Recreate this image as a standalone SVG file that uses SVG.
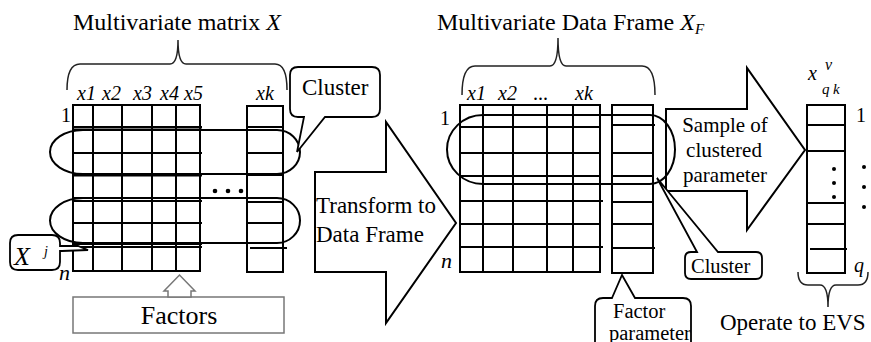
<svg xmlns="http://www.w3.org/2000/svg" width="871" height="342" viewBox="0 0 871 342">
  <defs>
    <style>
      text { font-family: Liberation Serif, DejaVu Serif, serif; }
      .it { font-style: italic; }
      .grid { stroke: #000; stroke-width: 2; fill: none; }
      .thick { stroke: #000; stroke-width: 3; }
      .loop { stroke: #000; stroke-width: 2; fill: none; }
      .brace { stroke: #222; stroke-width: 1.5; fill: none; }
      .blk { stroke: #000; stroke-width: 2; fill: #fff; stroke-linejoin: miter; }
      .callout { stroke: #000; stroke-width: 1.8; fill: #fff; }
      .gray { stroke: #777; stroke-width: 1.5; fill: #fff; }
    </style>
  </defs>

  <g font-family="Liberation Serif, DejaVu Serif, serif" fill="#000">

  <!-- titles -->
  <text x="73" y="30" font-size="24">Multivariate matrix <tspan class="it">X</tspan></text>
  <text x="437" y="30" font-size="24">Multivariate Data Frame <tspan class="it">X</tspan><tspan class="it" font-size="15" dy="4">F</tspan></text>

  <!-- braces -->
  <g id="braces">
    <path class="brace" d="M67,90 Q67,64 80,64 L170,64 Q178,64 178,40 Q178,64 186,64 L275,64 Q287,64 287,90"/>
    <path class="brace" d="M462,95 Q462,66 475,66 L550,66 Q558,66 558,38 Q558,66 566,66 L642,66 Q655,66 655,95"/>
    <path class="brace" d="M798,272 Q798,285 808,285 L820,285 Q828,285 828,307 Q828,285 836,285 L858,285 Q868,285 868,272"/>
  </g>

  <!-- left matrix X -->
  <g id="matrix-x">
    <text class="it" font-size="20" x="77" y="100">x1</text>
    <text class="it" font-size="20" x="102" y="100">x2</text>
    <text class="it" font-size="20" x="133" y="100">x3</text>
    <text class="it" font-size="20" x="160" y="100">x4</text>
    <text class="it" font-size="20" x="184" y="100">x5</text>
    <text class="it" font-size="20" x="256" y="100">xk</text>
    <text font-size="20" x="61" y="122">1</text>
    <text class="it" font-size="22" x="59" y="280">n</text>
    <rect class="grid" x="73" y="105" width="127" height="166"/>
    <path class="grid" d="M93,105 V271 M122,105 V271 M152,105 V271 M176,105 V271
      M73,127 H202 M73,129.5 H202 M73,153 H202 M73,198 H202 M73,201 H202 M73,223 H202 M73,244 H202 M73,247 H202"/>
    <path class="thick" d="M73,175 H202"/>
    <rect class="grid" x="247" y="106" width="36" height="166"/>
    <path class="grid" d="M247,127 H283 M247,153 H283 M247,175 H283 M247,202 H283 M247,223 H283 M250,248 H287"/>
    <circle cx="215" cy="191" r="2.3"/>
    <circle cx="228" cy="191" r="2.3"/>
    <circle cx="241" cy="191" r="2.3"/>
    <path class="loop" d="M83,130 L277,130 A23,22 0 0 1 277,174 L83,174 A33,22 0 0 1 83,130 Z"/>
    <path class="loop" d="M83,198 L277,198 A23,22.5 0 0 1 277,243 L83,243 A33,22.5 0 0 1 83,198 Z"/>
  </g>

  <!-- X^j callout -->
  <g id="callout-xj">
    <path class="callout" d="M18,235 L52,235 Q60,235 60,243 L60,246 L78,246 L88,250 L62,251 L60,251 L60,262 Q60,270 52,270 L18,270 Q10,270 10,262 L10,243 Q10,235 18,235 Z"/>
    <text class="it" font-size="26" x="14" y="265">X</text>
    <text class="it" font-size="14" x="44" y="256">j</text>
  </g>

  <!-- Factors -->
  <g id="factors">
    <rect class="gray" x="73" y="297" width="211" height="36"/>
    <polygon class="gray" points="168,297 168,291 164,291 179.5,275 195,291 191,291 191,297"/>
    <text font-size="26" x="179" y="324" text-anchor="middle">Factors</text>
  </g>

  <!-- top Cluster callout -->
  <g id="callout-cluster-1">
    <path class="callout" d="M298,67 L372,67 Q380,67 380,75 L380,109 Q380,117 372,117 L325,117 L297,152 L304,117 L298,117 Q290,117 290,109 L290,75 Q290,67 298,67 Z"/>
    <text font-size="23" x="302" y="95">Cluster</text>
  </g>

  <!-- Transform arrow -->
  <g id="arrow-transform">
    <polygon class="blk" points="315,172 386,172 386,122 456,223 386,323 386,272 315,272"/>
    <text font-size="23" x="316" y="213">Transform to</text>
    <text font-size="23" x="316" y="242">Data Frame</text>
  </g>

  <!-- Sample arrow -->
  <g id="arrow-sample">
    <polygon class="blk" points="666,109 747,109 747,68 805,150 747,230 747,191 666,191"/>
    <text font-size="21" x="725" y="132" text-anchor="middle">Sample of</text>
    <text font-size="21" x="724" y="157" text-anchor="middle">clustered</text>
    <text font-size="21" x="725" y="182" text-anchor="middle">parameter</text>
  </g>

  <!-- data frame X_F -->
  <g id="data-frame">
    <text class="it" font-size="20" x="467" y="100">x1</text>
    <text class="it" font-size="20" x="498" y="100">x2</text>
    <text font-size="20" x="533" y="100">...</text>
    <text class="it" font-size="20" x="575" y="100">xk</text>
    <text font-size="20" x="440" y="125">1</text>
    <text class="it" font-size="22" x="441" y="268">n</text>
    <rect class="grid" x="460" y="105" width="140" height="167"/>
    <path class="grid" d="M483,105 V272 M513,105 V272 M547,105 V272 M573,105 V272
      M460,127 H600 M460,153 H600 M460,176 H600 M460,201 H603 M460,224 H600 M460,247 H603"/>
  </g>

  <!-- factor parameter column -->
  <g id="factor-column">
    <rect class="grid" x="612" y="105" width="41" height="168"/>
    <path class="grid" d="M612,125 H655 M612,153 H653 M612,176 H653 M612,202 H653 M612,224 H653 M612,248 H655"/>
  </g>

  <!-- cluster loop on data frame -->
  <path id="cluster-loop" class="loop" d="M483,115 L650,115 A25,34.5 0 0 1 650,184 L483,184 A36,34.5 0 0 1 483,115 Z"/>

  <!-- lower Cluster callout -->
  <g id="callout-cluster-2">
    <path class="callout" d="M697,252 L657,178 L718,252 L756,252 Q762,252 762,258 L762,273 Q762,279 756,279 L691,279 Q685,279 685,273 L685,258 Q685,252 691,252 Z"/>
    <text font-size="20.5" x="691" y="273">Cluster</text>
  </g>

  <!-- Factor parameter callout -->
  <g id="callout-factor">
    <path class="callout" d="M612,298 L622,275 L635,298 L683,298 Q691,298 691,306 L691,350 L595,350 L595,306 Q595,298 603,298 Z"/>
    <text font-size="20.5" x="613" y="318">Factor</text>
    <text font-size="20.5" x="609" y="340">parameter</text>
  </g>

  <!-- sampled column x^v_qk -->
  <g id="sample-column">
    <text class="it" font-size="20" x="808" y="80">x</text>
    <text class="it" font-size="16" x="825" y="70">ν</text>
    <text class="it" font-size="15" x="822" y="94">q</text>
    <text class="it" font-size="15" x="833" y="94">k</text>
    <rect class="grid" x="807" y="105" width="38" height="168"/>
    <path class="grid" d="M807,125 H845 M807,151 H845 M807,203 H845 M807,224 H845 M810,249 H847"/>
    <circle cx="834" cy="169" r="2"/>
    <circle cx="834" cy="183" r="2"/>
    <circle cx="834" cy="197" r="2"/>
    <circle cx="864" cy="167" r="2"/>
    <circle cx="864" cy="187" r="2"/>
    <circle cx="864" cy="207" r="2"/>
    <text font-size="20" x="856" y="122">1</text>
    <text class="it" font-size="20" x="854" y="272">q</text>
  </g>

  <text font-size="23" x="720" y="330">Operate to EVS</text>
  </g>
</svg>
